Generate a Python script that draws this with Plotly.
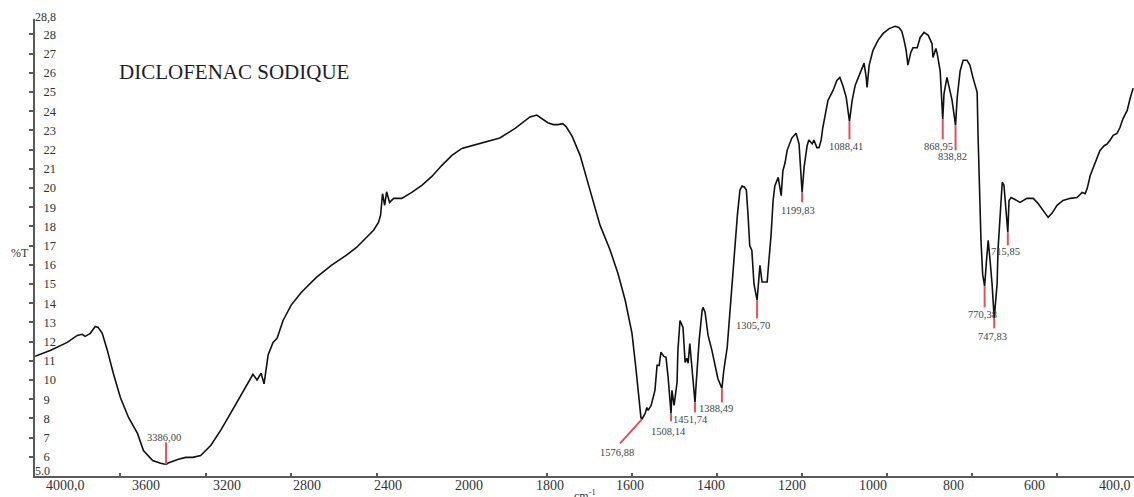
import plotly.graph_objects as go

# IR spectrum of diclofenac sodium: wavenumber (cm-1) vs transmittance (%T)
wavenumber = [
    4000, 3929, 3849, 3802, 3779, 3765, 3741, 3718, 3704, 3685, 3661, 3633, 3600,
    3562, 3520, 3492, 3449, 3412, 3386, 3379, 3332, 3294, 3261, 3224, 3176, 3129,
    3082, 3035, 2998, 2979, 2960, 2941, 2927, 2908, 2885, 2866, 2838, 2800, 2753,
    2682, 2612, 2541, 2494, 2447, 2414, 2391, 2381, 2372, 2362, 2353, 2339, 2320,
    2282, 2235, 2188, 2141, 2094, 2047, 2000, 1958, 1911, 1875, 1840, 1824, 1810,
    1798, 1785, 1774, 1763, 1755, 1741, 1722, 1699, 1675, 1652, 1633, 1616, 1600,
    1591, 1584, 1579, 1576.88, 1569, 1565, 1562, 1555, 1546, 1541, 1536, 1532,
    1525, 1520, 1515, 1508.14, 1506, 1501, 1494, 1492, 1487, 1480, 1475, 1471,
    1468, 1464, 1459, 1451.74, 1449, 1442, 1435, 1433, 1428, 1421, 1412, 1405,
    1398, 1388.49, 1384, 1376, 1369, 1362, 1358, 1352, 1346, 1341, 1336, 1331,
    1327, 1323, 1318, 1313, 1305.70, 1302, 1299, 1294, 1289, 1282, 1278, 1273,
    1268, 1264, 1256, 1249, 1245, 1240, 1235, 1224, 1214, 1207, 1199.83, 1195,
    1188, 1184, 1176, 1172, 1165, 1160, 1155, 1151, 1139, 1127, 1118, 1111, 1104,
    1096, 1088.41, 1082, 1075, 1068, 1059, 1054, 1049, 1047, 1042, 1033, 1021,
    1009, 995, 981, 972, 965, 960, 955, 951, 944, 939, 929, 922, 913, 903, 894,
    892, 885, 882, 875, 868.95, 866, 859, 852, 847, 838.82, 835, 828, 821, 812,
    805, 798, 788, 786, 783, 779, 775, 770.38, 766, 762, 758, 753, 747.83, 741,
    739, 734, 729, 725, 720, 715.85, 713, 708, 699, 687, 671, 656, 645, 633, 621,
    612, 600, 586, 569, 553, 541, 534, 529, 522, 511, 499, 489, 482, 475, 468,
    459, 452, 445, 435, 428, 421,
]
transmittance = [
    11.23, 11.54, 11.96, 12.32, 12.38, 12.27, 12.43, 12.79, 12.74, 12.43, 11.54,
    10.34, 9.09, 8.05, 7.22, 6.33, 5.81, 5.66, 5.60, 5.66, 5.86, 5.97, 5.97, 6.07,
    6.6, 7.4, 8.3, 9.2, 9.9, 10.3, 10.0, 10.35, 9.8, 11.3, 11.96, 12.17, 13.1,
    13.9, 14.56, 15.34, 15.97, 16.5, 16.9, 17.4, 17.8, 18.2, 18.6, 19.7, 19.1,
    19.8, 19.25, 19.46, 19.46, 19.77, 20.14, 20.6, 21.18, 21.7, 22.06, 22.3, 22.6,
    23.1, 23.7, 23.8, 23.6, 23.4, 23.3, 23.3, 23.35, 23.2, 22.7, 21.7, 19.9, 18.05,
    16.8, 15.55, 14.15, 12.43, 10.66, 8.94, 8.05, 7.95, 8.26, 8.57, 8.42, 8.68,
    9.46, 10.76, 10.76, 11.44, 11.23, 11.18, 10.14, 8.25, 9.46, 8.68, 9.88, 11.54,
    13.1, 12.74, 10.92, 11.13, 10.87, 11.9, 10.76, 8.83, 9.82, 12.06, 13.63,
    13.78, 13.52, 12.32, 11.54, 10.76, 10.08, 9.56, 10.5, 11.7, 13.73, 15.86,
    16.75, 18.6, 19.9, 20.1, 20.05, 19.9, 18.6, 17.0, 16.75, 15.0, 14.15, 15.34,
    15.97, 15.1, 15.1, 15.1, 16.2, 17.5, 19.35, 20.1, 20.55, 19.6, 20.9, 21.3,
    21.96, 22.6, 22.85, 22.3, 19.77, 21.1, 22.2, 22.5, 22.3, 22.5, 22.1, 22.1,
    22.5, 23.15, 24.56, 25.08, 25.6, 25.76, 25.34, 24.72, 23.47, 24.56, 25.34,
    25.76, 26.28, 26.5, 25.76, 25.24, 26.4, 27.17, 27.7, 28.05, 28.3, 28.42,
    28.36, 28.15, 27.7, 27.17, 26.4, 27.06, 27.3, 27.3, 27.84, 28.1, 27.95, 27.5,
    26.8, 27.27, 27.0, 26.1, 23.57, 24.9, 25.76, 25.08, 24.56, 23.26, 24.7, 26.1,
    26.65, 26.65, 26.4, 25.76, 24.98, 22.84, 20.24, 17.27, 15.5, 14.88, 16.23,
    17.27, 16.33, 15.03, 13.21, 15.03, 16.75, 18.47, 20.3, 20.14, 19.0, 17.69,
    19.35, 19.5, 19.4, 19.25, 19.46, 19.46, 19.2, 18.83, 18.47, 18.68, 19.1,
    19.35, 19.46, 19.5, 19.77, 19.7, 19.98, 20.65, 21.3, 21.96, 22.2, 22.3, 22.5,
    22.74, 22.84, 23.15, 23.6, 24.04, 24.67, 25.2,
]

# Picked absorption bands
peak_wn = [3386.00, 1576.88, 1508.14, 1451.74, 1388.49, 1305.70, 1199.83,
           1088.41, 868.95, 838.82, 770.38, 747.83, 715.85]
peak_T = [5.60, 7.95, 8.25, 8.83, 9.56, 14.15, 19.77,
          23.47, 23.57, 23.26, 14.88, 13.21, 17.69]
peak_text = ["3386,00", "1576,88", "1508,14", "1451,74", "1388,49", "1305,70",
             "1199,83", "1088,41", "868,95", "838,82", "770,38", "747,83", "715,85"]

# Axis labelling
x_tick_text = ["4000,0", "3600", "3200", "2800", "2400", "2000", "1800", "1600",
               "1400", "1200", "1000", "800", "600", "400,0"]
x_ticks_high = [3600, 3200, 2800, 2400]
x_ticks_low = [2000, 1800, 1600, 1400, 1200, 1000, 800, 600]
y_ticks = list(range(6, 29))

# Where each leader line ends and where its label sits (wavenumber, %T)
leader_end = [(3386.00, 6.75), (1628, 6.70), (1508.14, 7.85), (1451.74, 8.31),
              (1388.49, 8.83), (1305.70, 13.21), (1199.83, 19.25), (1088.41, 22.53),
              (868.95, 22.53), (838.82, 21.96), (770.38, 13.78), (747.83, 12.69),
              (715.85, 17.01)]
label_at = [(3398, 6.98), (1635, 6.25), (1515, 7.32), (1463, 7.95), (1402, 8.52),
            (1315, 12.84), (1209, 18.83), (1096, 22.17), (880, 22.17), (847, 21.65),
            (776, 13.42), (753, 12.27), (722, 16.70)]

SERIF = "Liberation Serif"
INK = "#333333"
AXIS = "#5a5a5a"
RED = "#e4515a"

# The instrument scale changes at 2000 cm-1: two x axes side by side
SPLIT = 0.3885
X_END = 419

# Scale labels are printed at even steps along the axis (paper fraction)
LABEL_FIRST = 0.0273
LABEL_STEP = 0.0735

hi_wn = [w for w in wavenumber if w >= 2000]
hi_T = [t for w, t in zip(wavenumber, transmittance) if w >= 2000]
lo_wn = [w for w in wavenumber if w <= 2000]
lo_T = [t for w, t in zip(wavenumber, transmittance) if w <= 2000]

fig = go.Figure()
line_style = dict(color="#111111", width=1.6)
fig.add_trace(go.Scatter(x=hi_wn, y=hi_T, mode="lines", line=line_style,
                         xaxis="x", yaxis="y", hoverinfo="x+y"))
fig.add_trace(go.Scatter(x=lo_wn, y=lo_T, mode="lines", line=line_style,
                         xaxis="x2", yaxis="y", hoverinfo="x+y"))

shapes = []
annotations = []
for wn, t, txt, (ex, ey), (lx, ly) in zip(peak_wn, peak_T, peak_text, leader_end, label_at):
    xr = "x" if wn >= 2000 else "x2"
    shapes.append(dict(type="line", xref=xr, yref="y", x0=wn, y0=t, x1=ex, y1=ey,
                       line=dict(color=RED, width=2)))
    annotations.append(dict(xref=xr, yref="y", x=lx, y=ly, text=txt, showarrow=False,
                            xanchor="center", yanchor="middle",
                            font=dict(family=SERIF, size=10.5, color="#444444")))

for i, txt in enumerate(x_tick_text):
    annotations.append(dict(xref="paper", yref="paper", x=LABEL_FIRST + i * LABEL_STEP,
                            y=-0.0, xanchor="center", yanchor="top", text=txt,
                            showarrow=False,
                            font=dict(family=SERIF, size=14, color=INK)))

annotations += [
    dict(xref="paper", yref="paper", x=0.0746, y=0.883, xanchor="left", yanchor="middle",
         text="DICLOFENAC SODIQUE", showarrow=False,
         font=dict(family=SERIF, size=21, color="#1e1e2a")),
    dict(xref="paper", yref="paper", x=-0.0136, y=0.487, xanchor="center", yanchor="middle",
         text="%T", showarrow=False, font=dict(family=SERIF, size=12, color=INK)),
    dict(xref="paper", yref="paper", x=-0.002, y=1.005, xanchor="left", yanchor="middle",
         text="28,8", showarrow=False, font=dict(family=SERIF, size=12, color=INK)),
    dict(xref="paper", yref="paper", x=-0.002, y=0.010, xanchor="left", yanchor="middle",
         text="5.0", showarrow=False, font=dict(family=SERIF, size=12, color=INK)),
    dict(xref="paper", yref="paper", x=0.5, y=-0.022, xanchor="center", yanchor="top",
         text="cm<sup>-1</sup>", showarrow=False, font=dict(family=SERIF, size=12, color=INK)),
]

tick_common = dict(showgrid=False, zeroline=False, showline=True, linecolor=AXIS,
                   linewidth=2, ticks="inside", ticklen=3, tickwidth=1.5,
                   tickcolor=AXIS, showticklabels=False, anchor="y")

fig.update_layout(
    width=1134, height=497,
    margin=dict(l=35, r=0, t=19, b=21),
    paper_bgcolor="white", plot_bgcolor="white",
    showlegend=False,
    xaxis=dict(domain=[0, SPLIT], range=[4000, 2000], tickvals=x_ticks_high, **tick_common),
    xaxis2=dict(domain=[SPLIT, 1], range=[2000, X_END], tickvals=x_ticks_low, **tick_common),
    yaxis=dict(range=[5.0, 28.8], tickvals=y_ticks, ticktext=[str(v) for v in y_ticks],
               showgrid=False, zeroline=False, showline=True, linecolor=AXIS, linewidth=2,
               ticks="outside", ticklen=4, tickwidth=1.5, tickcolor=AXIS,
               ticklabelposition="inside", ticklabelstandoff=8, anchor="x",
               tickfont=dict(family=SERIF, size=12.5, color=INK)),
    shapes=shapes,
    annotations=annotations,
)

fig.write_html("out.html")
